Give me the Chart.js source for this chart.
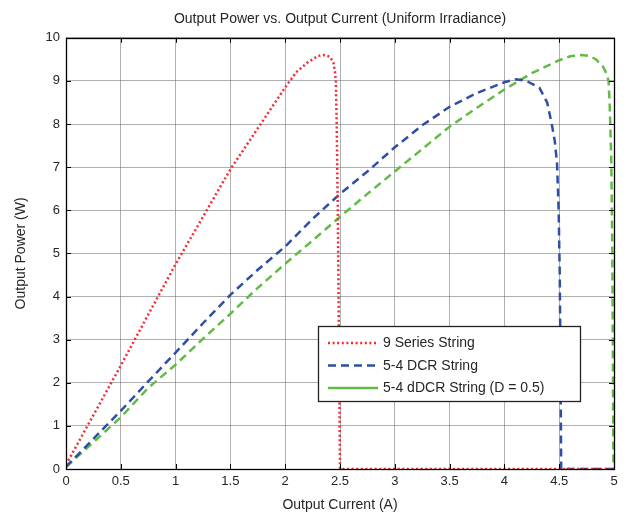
<!DOCTYPE html>
<html>
<head>
<meta charset="utf-8">
<script src="https://cdn.jsdelivr.net/npm/chart.js@4.4.1/dist/chart.umd.min.js"></script>
<style>
html,body{margin:0;padding:0;background:#fff;}
#wrap{width:625px;height:517px;}
</style>
</head>
<body>
<div id="wrap"><canvas id="c" width="625" height="517"></canvas></div>
<script>
const seriesNames = ['9 Series String', '5-4 DCR String', '5-4 dDCR String (D = 0.5)'];

const seriesX = [0, 0.25, 0.5, 0.75, 1.0, 1.25, 1.5, 1.75, 2.0, 2.1, 2.2, 2.3, 2.35, 2.41, 2.44, 2.455, 2.462, 2.47, 2.48, 2.49, 2.5, 5];
const seriesY = [0.1, 1.25, 2.4, 3.58, 4.75, 5.85, 6.95, 7.9, 8.85, 9.2, 9.42, 9.58, 9.6, 9.56, 9.42, 9.2, 9.0, 8.0, 6.0, 3.0, 0, 0];

const dcrX = [0, 0.25, 0.5, 0.75, 1.0, 1.25, 1.5, 1.75, 2.0, 2.25, 2.5, 2.75, 3.0, 3.25, 3.5, 3.75, 4.0, 4.11, 4.2, 4.32, 4.39, 4.43, 4.46, 4.48, 4.495, 4.505, 4.512, 4.518, 5];
const dcrY = [0.05, 0.7, 1.35, 2.03, 2.7, 3.38, 4.04, 4.62, 5.16, 5.8, 6.38, 6.9, 7.46, 7.97, 8.4, 8.72, 8.97, 9.04, 9.0, 8.84, 8.5, 8.03, 7.6, 7.1, 6.0, 4.5, 2.5, 0, 0];

const ddcrX = [0, 0.25, 0.5, 0.75, 1.0, 1.25, 1.5, 1.75, 2.0, 2.25, 2.5, 2.75, 3.0, 3.25, 3.5, 3.75, 4.0, 4.25, 4.5, 4.6, 4.7, 4.78, 4.84, 4.9, 4.93, 4.95, 4.96, 4.975, 4.985, 4.99, 4.995, 5];
const ddcrY = [0.05, 0.62, 1.2, 1.88, 2.42, 3.02, 3.6, 4.2, 4.76, 5.3, 5.85, 6.38, 6.9, 7.42, 7.94, 8.38, 8.8, 9.18, 9.48, 9.57, 9.6, 9.58, 9.49, 9.33, 9.18, 9.0, 8.5, 7.2, 5.0, 2.5, 0, 0];

const xTicks = [0, 0.5, 1, 1.5, 2, 2.5, 3, 3.5, 4, 4.5, 5];
const yTicks = [0, 1, 2, 3, 4, 5, 6, 7, 8, 9, 10];

const toPts = (xs, ys) => xs.map((x, i) => ({x: x, y: ys[i]}));

const FONT = '"Liberation Sans", Arial, sans-serif';
const TXT = '#262626';

const styles = [
  {color: '#f42a34', dash: [2, 2.6], width: 2.5, legendDash: [2, 2.6]},
  {color: '#2f4ea6', dash: [8, 5], width: 2.5, legendDash: [8, 5]},
  {color: '#62bb45', dash: [8, 5], width: 2.5, legendDash: []}
];

const frame = {
  id: 'frame',
  afterDatasetsDraw(chart) {
    const ctx = chart.ctx, a = chart.chartArea;
    const xs = chart.scales.x, ys = chart.scales.y;
    ctx.save();
    ctx.strokeStyle = '#000';
    ctx.lineWidth = 1;
    ctx.beginPath();
    xTicks.forEach(v => {
      const p = Math.round(xs.getPixelForValue(v)) + 0.5;
      ctx.moveTo(p, a.bottom); ctx.lineTo(p, a.bottom - 5);
      ctx.moveTo(p, a.top); ctx.lineTo(p, a.top + 5);
    });
    yTicks.forEach(v => {
      const p = Math.round(ys.getPixelForValue(v)) + 0.5;
      ctx.moveTo(a.left, p); ctx.lineTo(a.left + 5, p);
      ctx.moveTo(a.right, p); ctx.lineTo(a.right - 5, p);
    });
    ctx.stroke();
    ctx.lineWidth = 1.3;
    ctx.strokeRect(Math.round(a.left) + 0.5, Math.round(a.top) + 0.5, Math.round(a.right - a.left), Math.round(a.bottom - a.top));

    // legend
    const bx = 318, by = 326, bw = 262, bh = 75;
    ctx.fillStyle = '#fff';
    ctx.fillRect(bx, by, bw, bh);
    ctx.strokeStyle = '#222';
    ctx.lineWidth = 1.3;
    ctx.strokeRect(bx + 0.5, by + 0.5, bw, bh);
    const rows = [343, 365.5, 388];
    ctx.font = '14px ' + FONT;
    ctx.textBaseline = 'middle';
    ctx.textAlign = 'left';
    seriesNames.forEach((name, i) => {
      const s = styles[i];
      ctx.strokeStyle = s.color;
      ctx.lineWidth = s.width;
      ctx.setLineDash(s.legendDash);
      ctx.beginPath();
      ctx.moveTo(328, rows[i]); ctx.lineTo(378, rows[i]);
      ctx.stroke();
      ctx.setLineDash([]);
      ctx.fillStyle = TXT;
      ctx.fillText(name, 383, rows[i] + 0.5);
    });
    ctx.restore();
  }
};

const data = {
  datasets: [
    {label: seriesNames[0], data: toPts(seriesX, seriesY)},
    {label: seriesNames[1], data: toPts(dcrX, dcrY)},
    {label: seriesNames[2], data: toPts(ddcrX, ddcrY)}
  ].map((d, i) => Object.assign(d, {
    showLine: true,
    borderColor: styles[i].color,
    backgroundColor: styles[i].color,
    borderWidth: styles[i].width,
    borderDash: styles[i].dash,
    pointRadius: 0,
    tension: 0,
    fill: false
  }))
};

new Chart(document.getElementById('c'), {
  type: 'scatter',
  data: data,
  plugins: [frame],
  options: {
    responsive: false,
    animation: false,
    layout: {padding: {left: 0, right: 11, top: 0, bottom: 0}},
    plugins: {
      legend: {display: false},
      tooltip: {enabled: false},
      title: {
        display: true,
        fullSize: false,
        text: 'Output Power vs. Output Current (Uniform Irradiance)',
        color: TXT,
        font: {family: FONT, size: 14, weight: 'normal'},
        padding: {top: 11, bottom: 10}
      }
    },
    scales: {
      x: {
        type: 'linear', min: 0, max: 5,
        afterBuildTicks: s => { s.ticks = xTicks.map(v => ({value: v})); },
        afterFit: s => { s.height = 48; },
        ticks: {color: TXT, font: {family: FONT, size: 13}, padding: 5, maxRotation: 0,
                callback: v => String(v)},
        grid: {color: 'rgba(110,110,110,0.55)', drawTicks: false, lineWidth: 1},
        border: {display: false},
        title: {display: true, text: 'Output Current (A)', color: TXT,
                font: {family: FONT, size: 14}, padding: {top: 0, bottom: 3}}
      },
      y: {
        type: 'linear', min: 0, max: 10,
        afterBuildTicks: s => { s.ticks = yTicks.map(v => ({value: v})); },
        afterFit: s => { s.width = 66; },
        ticks: {color: TXT, font: {family: FONT, size: 13}, padding: 6,
                callback: v => String(v)},
        grid: {color: 'rgba(110,110,110,0.55)', drawTicks: false, lineWidth: 1},
        border: {display: false},
        title: {display: true, text: 'Output Power (W)', color: TXT,
                font: {family: FONT, size: 14}, padding: {top: 13, bottom: 0}}
      }
    }
  }
});
</script>
</body>
</html>
